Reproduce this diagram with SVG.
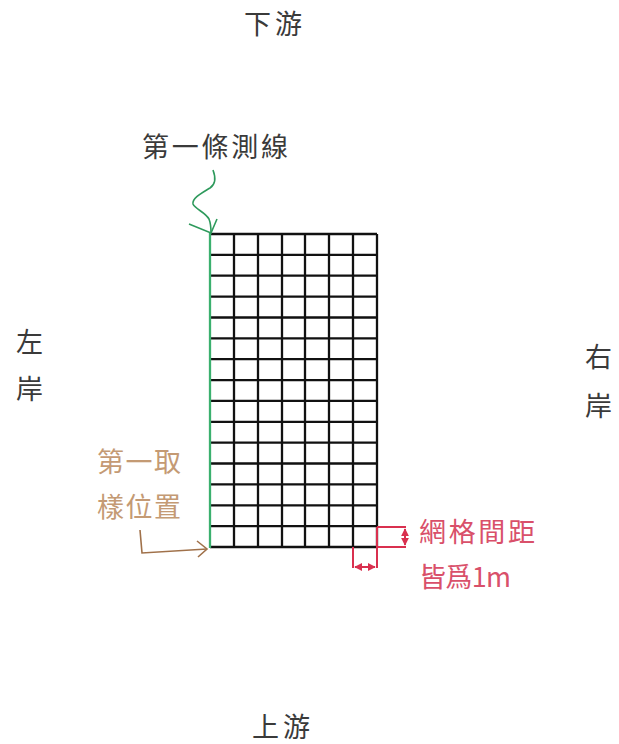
<svg xmlns="http://www.w3.org/2000/svg" width="619" height="744" viewBox="0 0 619 744">
<defs>
<style>
.t{font-family:"Noto Sans CJK TC","Noto Sans CJK SC",sans-serif;font-size:27px}
.gray{fill:#3a3a3a}
.brown{fill:#c49a74}
.red{fill:#d9506a}
.grid{stroke:#111;stroke-width:2.3;fill:none}
.rl{stroke:#d9304f;stroke-width:2;fill:none}
</style>
<marker id="ra" viewBox="0 0 10 10" refX="9" refY="5" markerWidth="4" markerHeight="4" orient="auto-start-reverse" markerUnits="strokeWidth">
<path d="M0,0 L10,5 L0,10 z" fill="#d9304f"/>
</marker>
</defs>
<rect width="619" height="744" fill="#fff"/>
<g id="labels">
<text class="t gray" x="244" y="34" textLength="58">下游</text>
<text class="t gray" x="252" y="737" textLength="58">上游</text>
<text class="t gray" x="16" y="352">左</text>
<text class="t gray" x="16" y="399">岸</text>
<text class="t gray" x="585" y="367">右</text>
<text class="t gray" x="585" y="416">岸</text>
</g>
<g id="grid">
<path class="grid" d="M234,234V547M258,234V547M282,234V547M305,234V547M329,234V547M353,234V547M377,234V547
M210,234H377M210,254.9H377M210,275.7H377M210,296.6H377M210,317.5H377M210,338.3H377M210,359.2H377M210,380.1H377M210,400.9H377M210,421.8H377M210,442.7H377M210,463.5H377M210,484.4H377M210,505.3H377M210,526.1H377M210,547H377"/>
<line x1="210" y1="233" x2="210" y2="548" stroke="#3bb06e" stroke-width="2.3"/>
</g>
<g id="first-line">
<text class="t gray" x="142" y="157" textLength="146">第一條測線</text>
</g>
<g id="first-sample">
<text class="t brown" x="97" y="472" textLength="84">第一取</text>
<text class="t brown" x="97" y="517" textLength="84">樣位置</text>
</g>
<g id="spacing-note">
<text class="t red" x="419" y="542" textLength="116">網格間距</text>
<text class="t red" x="419" y="587" textLength="92">皆爲1m</text>
</g>
<g id="connectors">
<path d="M213,170 C216,178 216,184 210,188 C202,193 192,198 193,204 C195,209 205,212 209,219 C211,224 211,228 211,233" stroke="#2e9a5c" stroke-width="1.6" fill="none"/>
<path d="M189,224 L211,233 L217,219" stroke="#2e9a5c" stroke-width="1.6" fill="none"/>
<path d="M140,530 L142,553 L207,549" stroke="#a0714a" stroke-width="1.6" fill="none"/>
<path d="M197,541 L207,549 L198,557" stroke="#a0714a" stroke-width="1.6" fill="none"/>
<path class="rl" d="M377,527 H406 M377,547 H406 M353,547 V568 M377,527 V568"/>
<line class="rl" x1="405" y1="529" x2="405" y2="545" marker-start="url(#ra)" marker-end="url(#ra)"/>
<line class="rl" x1="355" y1="567" x2="375" y2="567" marker-start="url(#ra)" marker-end="url(#ra)"/>
</g>
</svg>
